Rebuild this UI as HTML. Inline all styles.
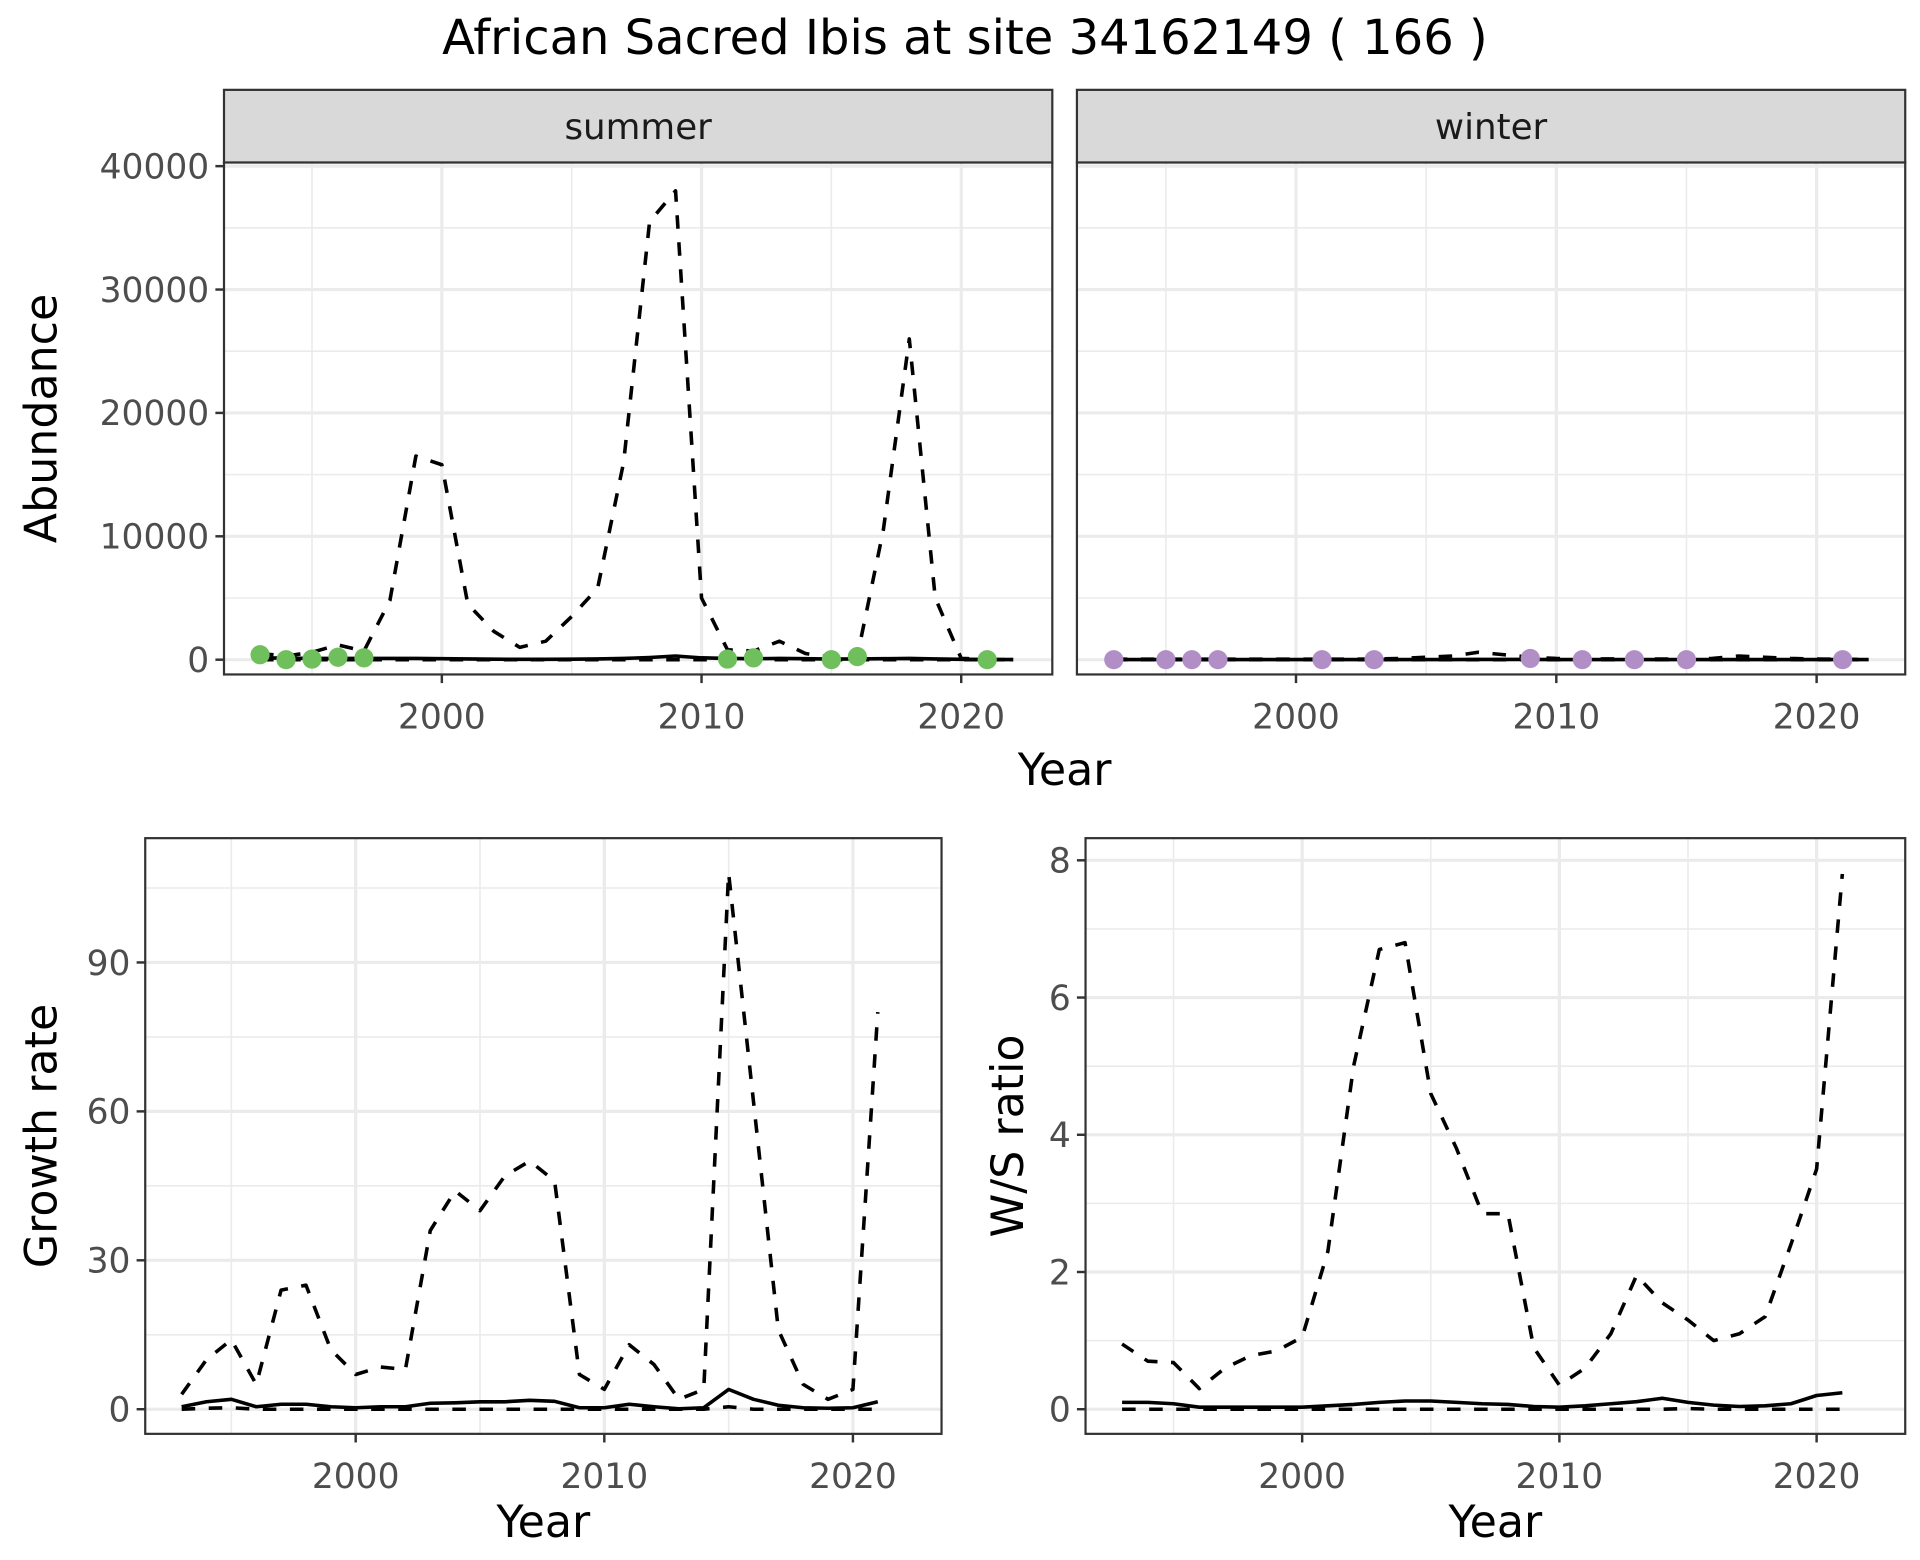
<!DOCTYPE html>
<html><head><meta charset="utf-8"><style>
html,body{margin:0;padding:0;background:#fff}
svg{display:block}
text{font-family:"DejaVu Sans","Liberation Sans",sans-serif}
</style></head><body>
<svg id="chart" width="1920" height="1560" viewBox="0 0 1560 1267.5" preserveAspectRatio="none" xmlns="http://www.w3.org/2000/svg">
<text x="784" y="44" font-size="39" text-anchor="middle" fill="#000">African Sacred Ibis at site 34162149 ( 166 )</text>
</svg>
<script>
const years = [1993,1994,1995,1996,1997,1998,1999,2000,2001,2002,2003,2004,2005,2006,2007,2008,2009,2010,2011,2012,2013,2014,2015,2016,2017,2018,2019,2020,2021,2022];
const summerUpper = [500,300,600,1200,700,4800,16500,15800,4500,2300,1000,1500,3500,5800,16000,35500,38000,5000,800,700,1500,500,200,300,10500,26000,5000,100,50,0];
const summerMean = [150,120,100,100,100,100,100,80,60,40,30,30,40,60,100,180,300,150,100,80,100,80,50,60,80,100,60,30,20,10];
const summerLower = [0,0,0,0,0,0,0,0,0,0,0,0,0,0,0,0,0,0,0,0,0,0,0,0,0,0,0,0,0,0];
const summerPtYears = [1993,1994,1995,1996,1997,2011,2012,2015,2016,2021];
const summerPtVals = [400,0,50,200,150,50,150,0,250,0];
const winterUpper = [50,40,40,40,40,40,40,40,40,40,50,100,200,300,600,400,200,100,80,60,60,50,50,100,300,200,100,50,30,20];
const winterMean = [10,10,10,10,10,10,10,10,10,10,10,10,10,10,20,20,20,10,10,10,10,10,10,10,10,10,10,10,10,10];
const winterLower = summerLower;
const winterPtYears = [1993,1995,1996,1997,2001,2003,2009,2011,2013,2015,2021];
const winterPtVals = [0,0,0,0,0,0,100,0,0,0,0];
const abundTicks = [0,10000,20000,30000,40000];
const abundTickLabels = ["0","10000","20000","30000","40000"];

const gYears = years.slice(0,29);
const growthUpper = [3,10,14,5,24,25,12,7,8.5,8,36,44,40,47,50,46,7,4,13,9,2,4,108,62,16,5,2,4,80];
const growthMean = [0.5,1.5,2,0.5,1,1,0.5,0.3,0.5,0.5,1.2,1.3,1.5,1.5,1.8,1.6,0.3,0.3,1,0.5,0.1,0.3,4,2,0.8,0.3,0.2,0.3,1.5];
const growthLower = [0,0.2,0.3,0,0,0,0,0,0,0,0,0,0,0,0,0,0,0,0,0,0,0,0.5,0,0,0,0,0,0];
const growthTicks = [0,30,60,90];
const growthTickLabels = ["0","30","60","90"];

const ratioUpper = [0.95,0.7,0.68,0.3,0.6,0.78,0.85,1.05,2.3,5.0,6.7,6.8,4.6,3.8,2.85,2.85,0.9,0.35,0.6,1.1,1.95,1.55,1.3,1.0,1.1,1.35,2.4,3.5,7.8];
const ratioMean = [0.1,0.1,0.08,0.03,0.03,0.03,0.03,0.03,0.05,0.07,0.1,0.12,0.12,0.1,0.08,0.07,0.04,0.03,0.05,0.08,0.11,0.16,0.1,0.06,0.04,0.05,0.08,0.2,0.24];
const ratioLower = [0,0,0,0,0,0,0,0,0,0,0,0,0,0,0,0,0,0,0,0,0,0,0.01,0,0,0,0,0,0];
const ratioTicks = [0,2,4,6,8];
const ratioTickLabels = ["0","2","4","6","8"];
const xTicks = [2000,2010,2020];
const xTickLabels = ["2000","2010","2020"];

const NS="http://www.w3.org/2000/svg";
const svg=document.getElementById('chart');
function mk(tag,attrs,parent){const e=document.createElementNS(NS,tag);for(const k in attrs)e.setAttribute(k,attrs[k]);(parent||svg).appendChild(e);return e;}

function panel(o){
  const g=mk('g',{});
  
  
  const sx=v=>o.x0+(v-o.xv0)*(o.x1-o.x0)/(o.xv1-o.xv0);
  const sy=v=>o.y0+(v-o.yv0)*(o.y1-o.y0)/(o.yv1-o.yv0);
  const bg=mk('rect',{x:o.L,y:o.T,width:o.R-o.L,height:o.B-o.T,fill:'#fff'},g);
  
  
  for(let i=0;i<o.minorY.length;i++){const y=sy(o.minorY[i]);if(y>o.T&&y<o.B)mk('line',{x1:o.L,x2:o.R,y1:y,y2:y,stroke:'#ebebeb','stroke-width':1.3},g);}
  for(let i=0;i<o.minorX.length;i++){const x=sx(o.minorX[i]);mk('line',{x1:x,x2:x,y1:o.T,y2:o.B,stroke:'#ebebeb','stroke-width':1.3},g);}
  for(let i=0;i<o.yTicks.length;i++){const y=sy(o.yTicks[i]);mk('line',{x1:o.L,x2:o.R,y1:y,y2:y,stroke:'#ebebeb','stroke-width':2.6},g);}
  for(let i=0;i<xTicks.length;i++){const x=sx(xTicks[i]);mk('line',{x1:x,x2:x,y1:o.T,y2:o.B,stroke:'#ebebeb','stroke-width':2.6},g);}
  function line(xs,vals,dash,name){
    let d='';for(let i=0;i<vals.length;i++){d+=(i?'L':'M')+sx(xs[i]).toFixed(2)+','+sy(vals[i]).toFixed(2);}
    const p=mk('path',{d:d,fill:'none',stroke:'#000','stroke-width':2.9,'stroke-dasharray':dash?'11,11':'none','stroke-linejoin':'round'},g);
    
    
  }
  line(o.xs,o.lower,true,'lower-ci-line');
  line(o.xs,o.upper,true,'upper-ci-line');
  line(o.xs,o.mean,false,'mean-line');
  if(o.ptX){for(let i=0;i<o.ptX.length;i++){const c=mk('circle',{cx:sx(o.ptX[i]),cy:sy(o.ptV[i]),r:7.8,fill:o.ptColor},g);
    
    }}
  mk('rect',{x:o.L,y:o.T,width:o.R-o.L,height:o.B-o.T,fill:'none',stroke:'#333','stroke-width':1.8},g);
  if(o.showY){for(let i=0;i<o.yTicks.length;i++){const y=sy(o.yTicks[i]);
    mk('line',{x1:o.L-7,x2:o.L,y1:y,y2:y,stroke:'#333','stroke-width':2},g);
    const t=mk('text',{x:o.L-12,y:y+10,'font-size':28,'text-anchor':'end',fill:'#4d4d4d'},g);t.textContent=o.yLabels[i];
    
    }}
  for(let i=0;i<xTicks.length;i++){const x=sx(xTicks[i]);
    mk('line',{x1:x,x2:x,y1:o.B,y2:o.B+7,stroke:'#333','stroke-width':2},g);
    const t=mk('text',{x:x,y:o.B+44,'font-size':28,'text-anchor':'middle',fill:'#4d4d4d'},g);t.textContent=xTickLabels[i];
    
    }
  if(o.strip){const s=mk('rect',{x:o.L,y:o.T-59,width:o.R-o.L,height:59,fill:'#d9d9d9',stroke:'#333','stroke-width':1.8},g);
    
    
    const t=mk('text',{x:(o.L+o.R)/2,y:o.T-19,'font-size':29,'text-anchor':'middle',fill:'#1a1a1a'},g);t.textContent=o.strip;
    
    }
  if(o.xTitle){const t=mk('text',{x:(o.L+o.R)/2,y:o.B+84,'font-size':36,'text-anchor':'middle',fill:'#000'},g);t.textContent=o.xTitle;
    
    }
  if(o.yTitle){const t=mk('text',{x:0,y:0,'font-size':36,'text-anchor':'middle',fill:'#000',transform:'translate('+o.yTitleX+','+((o.T+o.B)/2)+') rotate(-90)'},g);t.textContent=o.yTitle;
    
    }
}
const minorA=[5000,15000,25000,35000,45000];
const minorX=[1995,2005,2015];
panel({name:'summer-panel',L:182,R:855,T:132,B:548,x0:359,x1:781,xv0:2000,xv1:2020,y0:536,y1:135,yv0:0,yv1:40000,
  xs:years,upper:summerUpper,mean:summerMean,lower:summerLower,ptX:summerPtYears,ptV:summerPtVals,ptColor:'#6fbf5c',
  yTicks:abundTicks,yLabels:abundTickLabels,minorY:minorA,minorX:minorX,showY:true,strip:'summer',yTitle:'Abundance',yTitleX:46});
panel({name:'winter-panel',L:875,R:1548,T:132,B:548,x0:1053,x1:1476,xv0:2000,xv1:2020,y0:536,y1:135,yv0:0,yv1:40000,
  xs:years,upper:winterUpper,mean:winterMean,lower:winterLower,ptX:winterPtYears,ptV:winterPtVals,ptColor:'#b18fc6',
  yTicks:abundTicks,yLabels:abundTickLabels,minorY:minorA,minorX:minorX,showY:false,strip:'winter'});
const yt=mk('text',{x:865,y:638,'font-size':36,'text-anchor':'middle',fill:'#000'});yt.textContent='Year';


panel({name:'growth-rate-panel',L:118,R:765,T:681,B:1165,x0:289,x1:693,xv0:2000,xv1:2020,y0:1145,y1:782,yv0:0,yv1:90,
  xs:gYears,upper:growthUpper,mean:growthMean,lower:growthLower,
  yTicks:growthTicks,yLabels:growthTickLabels,minorY:[15,45,75,105],minorX:minorX,showY:true,xTitle:'Year',yTitle:'Growth rate',yTitleX:46});
panel({name:'ws-ratio-panel',L:882,R:1548,T:681,B:1165,x0:1058,x1:1476,xv0:2000,xv1:2020,y0:1145,y1:699,yv0:0,yv1:8,
  xs:gYears,upper:ratioUpper,mean:ratioMean,lower:ratioLower,
  yTicks:ratioTicks,yLabels:ratioTickLabels,minorY:[1,3,5,7],minorX:minorX,showY:true,xTitle:'Year',yTitle:'W/S ratio',yTitleX:831});
</script>
</body></html>
